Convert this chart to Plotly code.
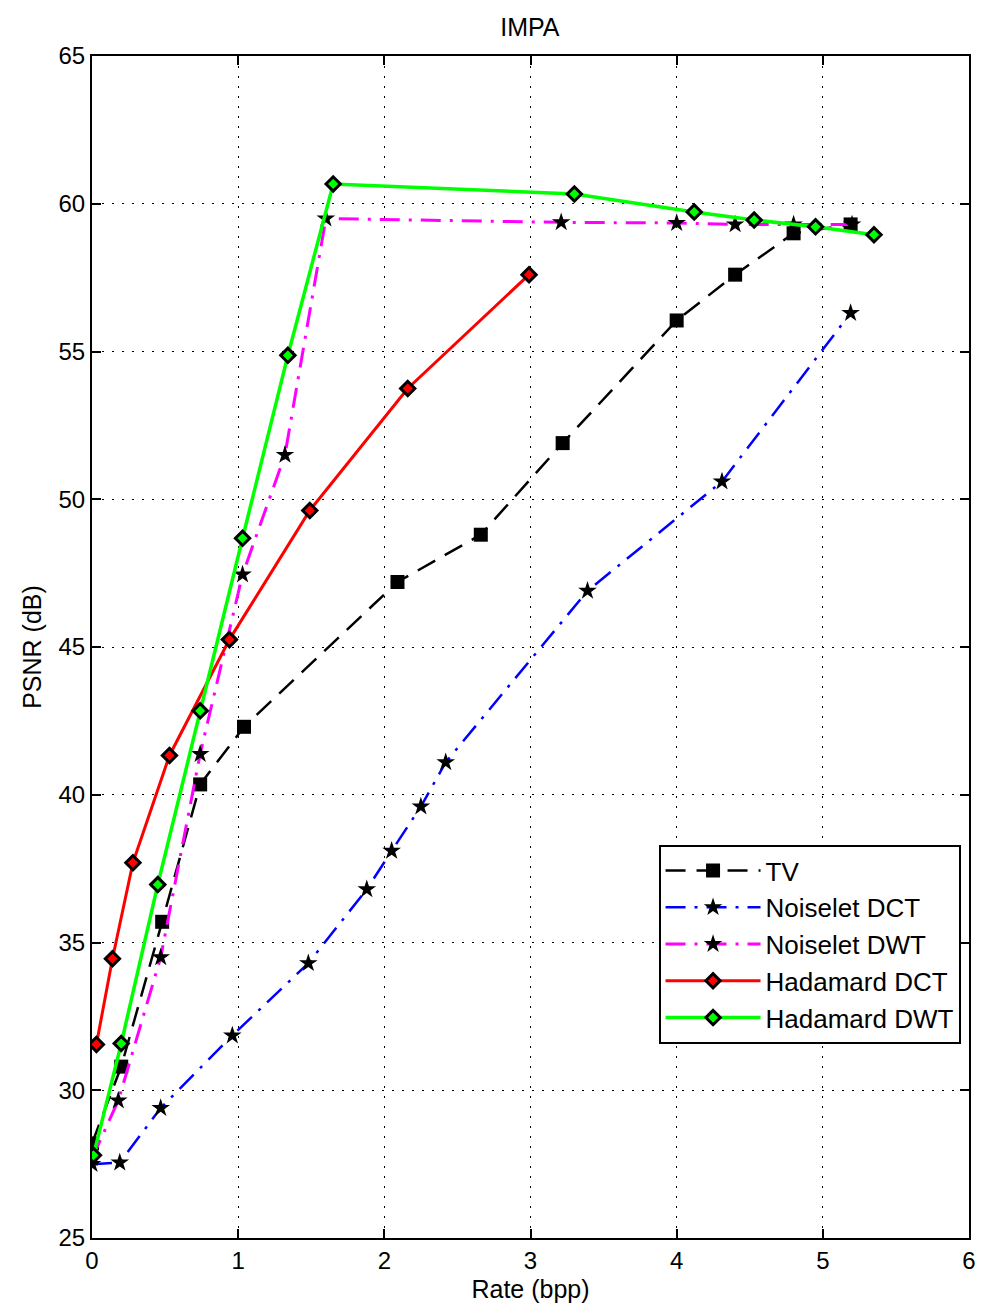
import plotly.graph_objects as go

# ---- data ----
tv_x = [0.0, 0.20, 0.48, 0.74, 1.04, 2.09, 2.66, 3.22, 4.00, 4.40, 4.80, 5.19]
tv_y = [28.2, 30.8, 35.7, 40.35, 42.3, 47.2, 48.8, 51.9, 56.05, 57.6, 59.0, 59.3]

ndct_x = [0.0, 0.19, 0.47, 0.96, 1.48, 1.88, 2.05, 2.25, 2.42, 3.39, 4.31, 5.19]
ndct_y = [27.5, 27.55, 29.4, 31.85, 34.3, 36.8, 38.1, 39.6, 41.1, 46.9, 50.6, 56.3]

ndwt_x = [0.0, 0.18, 0.47, 0.74, 1.03, 1.32, 1.60, 3.21, 4.00, 4.40, 4.80, 5.20]
ndwt_y = [27.7, 29.65, 34.5, 41.38, 47.45, 51.5, 59.5, 59.37, 59.35, 59.3, 59.3, 59.3]

hdct_x = [0.03, 0.14, 0.28, 0.53, 0.94, 1.49, 2.16, 2.99]
hdct_y = [31.55, 34.45, 37.7, 41.33, 45.25, 49.62, 53.75, 57.6]

hdwt_x = [0.01, 0.20, 0.45, 0.74, 1.03, 1.34, 1.65, 3.30, 4.12, 4.53, 4.95, 5.35]
hdwt_y = [27.8, 31.58, 36.96, 42.84, 48.68, 54.87, 60.67, 60.33, 59.72, 59.45, 59.22, 58.95]

x_ticks = [0, 1, 2, 3, 4, 5, 6]
y_ticks = [25, 30, 35, 40, 45, 50, 55, 60, 65]

FONT = "Liberation Sans, Arial, sans-serif"

fig = go.Figure()

fig.add_trace(go.Scatter(
    x=tv_x, y=tv_y, mode="lines+markers", name="TV",
    line=dict(color="black", width=2.5, dash="20px,11px"),
    marker=dict(symbol="square", size=14, color="black"),
))
fig.add_trace(go.Scatter(
    x=ndct_x, y=ndct_y, mode="lines+markers", name="Noiselet DCT",
    line=dict(color="#0000ff", width=2.5, dash="20px,9px,3px,9px"),
    marker=dict(symbol="star", size=14, color="black"),
))
fig.add_trace(go.Scatter(
    x=ndwt_x, y=ndwt_y, mode="lines+markers", name="Noiselet DWT",
    line=dict(color="#ff00ff", width=3, dash="20px,9px,3px,9px"),
    marker=dict(symbol="star", size=14, color="black"),
))
fig.add_trace(go.Scatter(
    x=hdct_x, y=hdct_y, mode="lines+markers", name="Hadamard DCT",
    line=dict(color="#ff0000", width=3),
    marker=dict(symbol="diamond", size=11, color="#ff0000",
                line=dict(color="black", width=3)),
))
fig.add_trace(go.Scatter(
    x=hdwt_x, y=hdwt_y, mode="lines+markers", name="Hadamard DWT",
    line=dict(color="#00ff00", width=3.5),
    marker=dict(symbol="diamond", size=11, color="#00ff00",
                line=dict(color="black", width=3)),
))

axis_common = dict(
    showline=True, linecolor="black", linewidth=2, mirror="ticks",
    ticks="inside", ticklen=9, tickwidth=1.5, tickcolor="black",
    showgrid=True, gridcolor="black", gridwidth=1, griddash="2px,8px",
    zeroline=False,
    tickfont=dict(family=FONT, size=24, color="black"),
)

fig.update_layout(
    width=984, height=1315,
    paper_bgcolor="white", plot_bgcolor="white",
    margin=dict(l=92, r=8, t=56, b=77),
    title=dict(text="IMPA", x=0.5385, xanchor="center", y=0.979, yanchor="middle",
               font=dict(family=FONT, size=25, color="black")),
    xaxis=dict(range=[0, 6], tickvals=x_ticks, ticktext=[str(v) for v in x_ticks],
               title=dict(text="Rate (bpp)", font=dict(family=FONT, size=25, color="black"), standoff=8),
               **axis_common),
    yaxis=dict(range=[25, 65], tickvals=y_ticks, ticktext=[str(v) for v in y_ticks],
               title=dict(text="PSNR (dB)", font=dict(family=FONT, size=25, color="black"), standoff=10),
               **axis_common),
    legend=dict(x=0.646, y=0.3325, xanchor="left", yanchor="top",
                bgcolor="white", bordercolor="black", borderwidth=2,
                font=dict(family=FONT, size=26, color="black"),
                itemwidth=95, tracegroupgap=0),
    showlegend=True,
)

fig.write_html("out.html")
